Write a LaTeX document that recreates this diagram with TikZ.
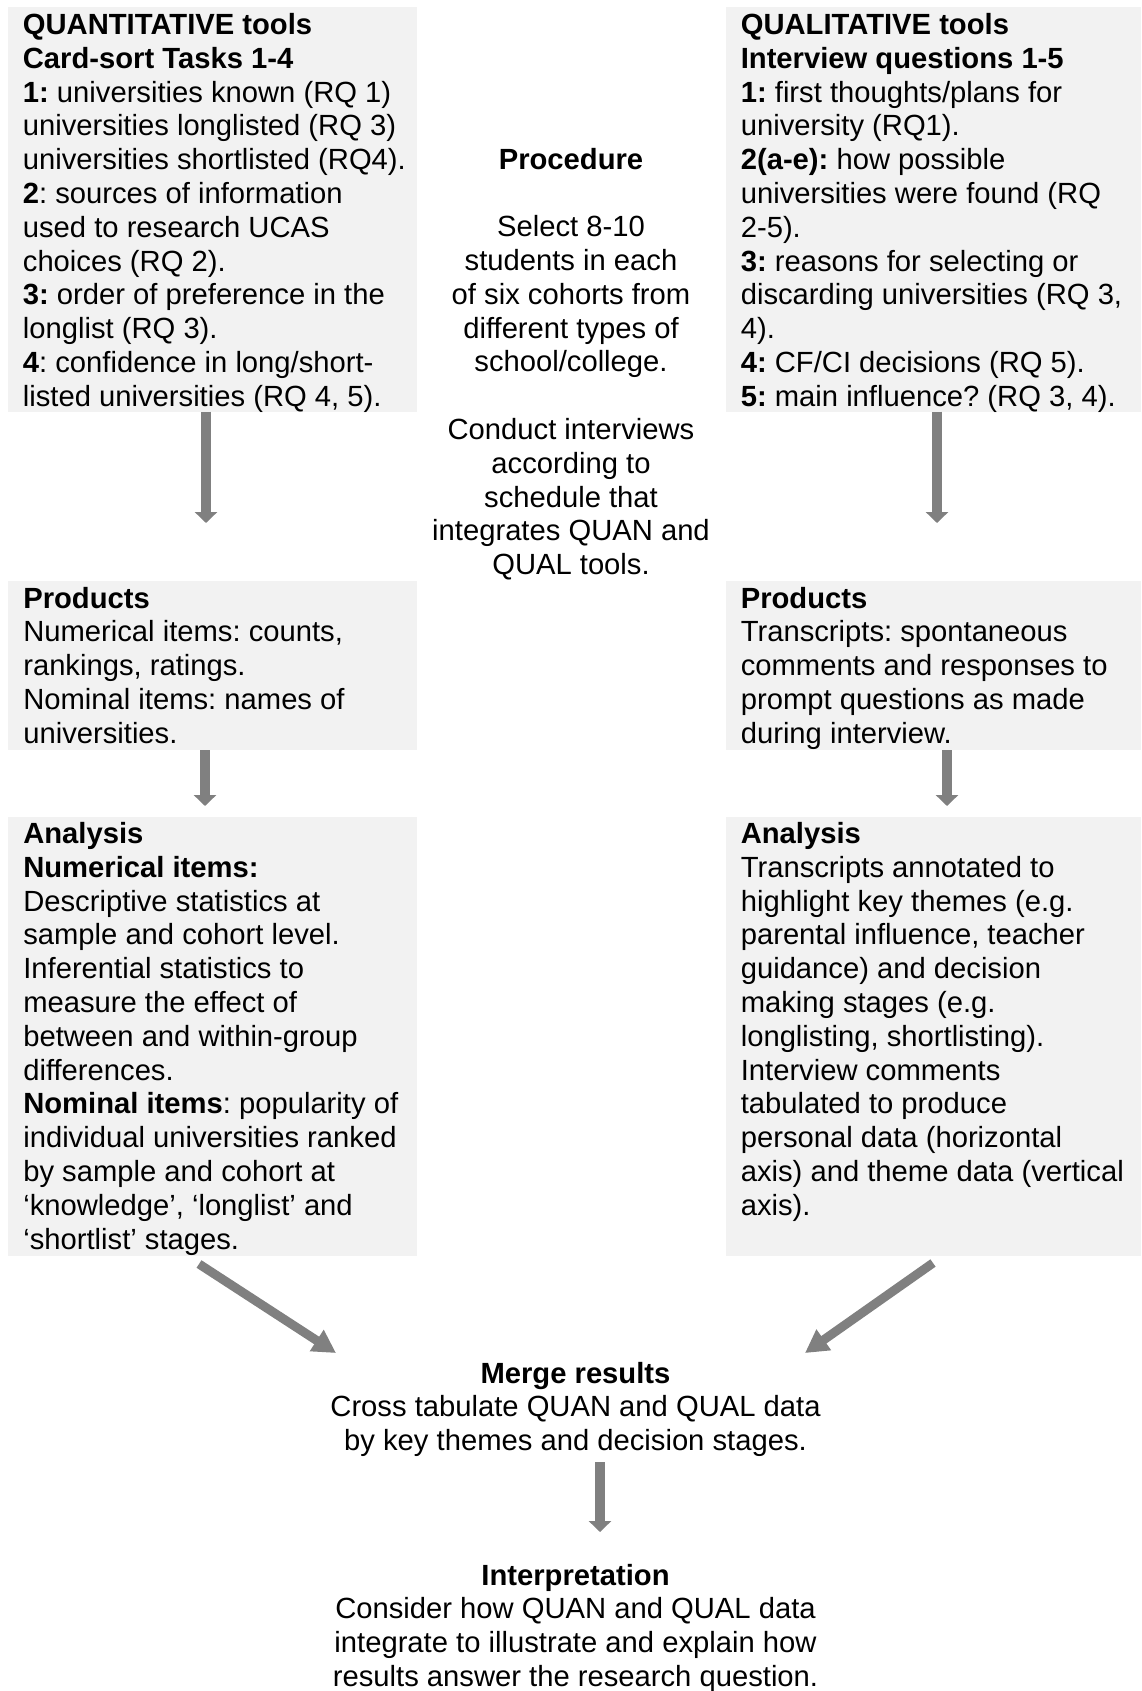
\documentclass[tikz,border=0pt]{standalone}
\usepackage{fontspec}
\setmainfont{Liberation Sans}
\usetikzlibrary{arrows.meta}
\definecolor{boxgray}{HTML}{F2F2F2}
\definecolor{arrgray}{HTML}{808080}
\newcommand\mystrut{\rule{0pt}{25pt}}
\frenchspacing
\begin{document}
\begin{tikzpicture}[x=1pt,y=-1pt,
  panel/.style={fill=boxgray, draw=none, inner sep=0pt, outer sep=0pt, anchor=north west},
  txt/.style={font=\fontsize{29.2}{33.8}\selectfont\frenchspacing, inner sep=0pt, outer sep=0pt, anchor=north west, align=left},
  ctxt/.style={font=\fontsize{29.2}{33.8}\selectfont\frenchspacing, inner sep=0pt, outer sep=0pt, anchor=north, align=center},
  varr/.style={draw=arrgray, line width=10pt, -{Triangle[width=22pt,length=11pt]}, arrgray},
  darr/.style={draw=arrgray, line width=9pt, -{Triangle[width=24pt,length=23pt]}, arrgray}]
\useasboundingbox (0,0) rectangle (1141,1691);
\fill[white] (0,0) rectangle (1141,1691);

% panels
\node[panel, minimum width=409pt, minimum height=404.7pt] (qtbox) at (8,7) {};
\node[panel, minimum width=415.4pt, minimum height=404.7pt] (qlbox) at (725.6,7) {};
\node[panel, minimum width=409pt, minimum height=169pt] (lpbox) at (8,581) {};
\node[panel, minimum width=415.4pt, minimum height=169pt] (rpbox) at (725.6,581) {};
\node[panel, minimum width=409pt, minimum height=439pt] (labox) at (8,817) {};
\node[panel, minimum width=415.4pt, minimum height=439pt] (rabox) at (725.6,817) {};

% texts
\node[txt] (qttext) at (22.9,9.5) {\mystrut\textbf{QUANTITATIVE tools}\\
\textbf{Card-sort Tasks 1-4}\\
\textbf{1:} universities known (RQ 1)\\
universities longlisted (RQ 3)\\
universities shortlisted (RQ4).\\
\textbf{2}: sources of information\\
used to research UCAS\\
choices (RQ 2).\\
\textbf{3:} order of preference in the\\
longlist (RQ 3).\\
\textbf{4}: confidence in long/short-\\
listed universities (RQ 4, 5).};

\node[txt] (qltext) at (740.8,9.5) {\mystrut\textbf{QUALITATIVE tools}\\
\textbf{Interview questions 1-5}\\
\textbf{1:} first thoughts/plans for\\
university (RQ1).\\
\textbf{2(a-e):} how possible\\
universities were found (RQ\\
2-5).\\
\textbf{3:} reasons for selecting or\\
discarding universities (RQ 3,\\
4).\\
\textbf{4:} CF/CI decisions (RQ 5).\\
\textbf{5:} main influence? (RQ 3, 4).};

\node[ctxt] (proc) at (571,144) {\mystrut\textbf{Procedure}\\
\\
Select 8-10\\
students in each\\
of six cohorts from\\
different types of\\
school/college.\\
\\
Conduct interviews\\
according to\\
schedule that\\
integrates QUAN and\\
QUAL tools.};

\node[txt] (lptext) at (23.3,583) {\mystrut\textbf{Products}\\
Numerical items: counts,\\
rankings, ratings.\\
Nominal items: names of\\
universities.};

\node[txt] (rptext) at (740.8,583) {\mystrut\textbf{Products}\\
Transcripts: spontaneous\\
comments and responses to\\
prompt questions as made\\
during interview.};

\node[txt] (latext) at (23.3,818.5) {\mystrut\textbf{Analysis}\\
\textbf{Numerical items:}\\
Descriptive statistics at\\
sample and cohort level.\\
Inferential statistics to\\
measure the effect of\\
between and within-group\\
differences.\\
\textbf{Nominal items}: popularity of\\
individual universities ranked\\
by sample and cohort at\\
‘knowledge’, ‘longlist’ and\\
‘shortlist’ stages.};

\node[txt] (ratext) at (740.8,818.5) {\mystrut\textbf{Analysis}\\
Transcripts annotated to\\
highlight key themes (e.g.\\
parental influence, teacher\\
guidance) and decision\\
making stages (e.g.\\
longlisting, shortlisting).\\
Interview comments\\
tabulated to produce\\
personal data (horizontal\\
axis) and theme data (vertical\\
axis).};

\node[ctxt] (merge) at (575.5,1358) {\mystrut\textbf{Merge results}\\
Cross tabulate QUAN and QUAL data\\
by key themes and decision stages.};

\node[ctxt] (interp) at (575.5,1560) {\mystrut\textbf{Interpretation}\\
Consider how QUAN and QUAL data\\
integrate to illustrate and explain how\\
results answer the research question.};

% arrow end points
\coordinate (a1l) at (206,523);
\coordinate (a1r) at (937,523);
\coordinate (a2l) at (205,806);
\coordinate (a2r) at (947,806);
\coordinate (dls) at (199,1264);
\coordinate (dle) at (336,1353);
\coordinate (drs) at (933,1263);
\coordinate (dre) at (805,1353);
\coordinate (mbs) at (600,1462);
\coordinate (mbe) at (600,1532);

\draw[varr] (qtbox.south -| a1l) -- (a1l);
\draw[varr] (qlbox.south -| a1r) -- (a1r);
\draw[varr] (lpbox.south -| a2l) -- (a2l);
\draw[varr] (rpbox.south -| a2r) -- (a2r);
\draw[darr] (dls) -- (dle);
\draw[darr] (drs) -- (dre);
\draw[varr] (mbs) -- (mbe);
\end{tikzpicture}
\end{document}
